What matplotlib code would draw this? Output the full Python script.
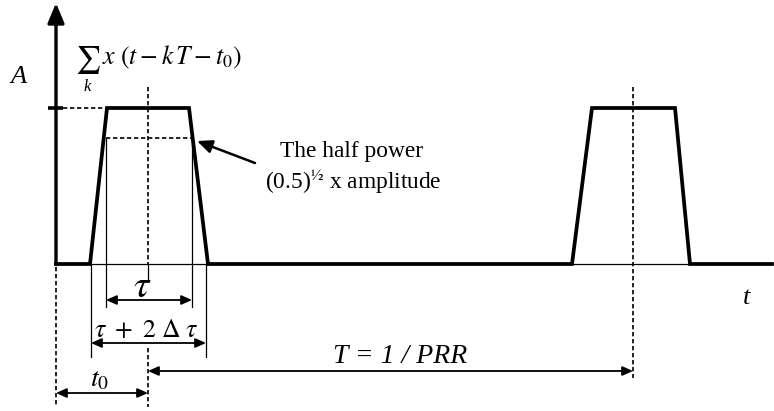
import numpy as np
import matplotlib.pyplot as plt

plt.rcParams['font.family'] = ['Liberation Serif', 'DejaVu Serif']
plt.rcParams['mathtext.fontset'] = 'stix'

# pulse train: corner times and amplitude levels (0 = off, 1 = A)
t_pts = [56, 90, 107, 189, 208, 572, 592, 675, 690, 772]
a_pts = [0, 0, 1, 1, 0, 0, 1, 1, 0, 0]
half_level = 0.81          # level of the half power marks
t_start = 56               # time origin
t_centre = [148, 633]      # centres of the two pulses
tau_edges = [106, 192]     # width at half power
full_edges = [91, 206]     # full width at the feet

base_y = 264
amp_px = 156


def level(a):
    return base_y - amp_px * np.asarray(a, dtype=float)


fig = plt.figure(figsize=(7.74, 4.11), dpi=100)
ax = fig.add_axes([0, 0, 1, 1])
ax.set_xlim(0, 774)
ax.set_ylim(411, 0)
ax.axis('off')

thin = 0.9
dash = (0, (2.6, 1.6))

def dim_arrow(x1, x2, y):
    ax.annotate('', xy=(x2, y), xytext=(x1, y),
                arrowprops=dict(arrowstyle='<|-|>,head_length=0.45,head_width=0.2',
                                lw=1.3, color='k', mutation_scale=14,
                                shrinkA=0, shrinkB=0))

# amplitude axis with arrow
ax.annotate('', xy=(t_start, 3), xytext=(t_start, base_y),
            arrowprops=dict(arrowstyle='-|>,head_length=0.6,head_width=0.25',
                            lw=2.4, color='k', mutation_scale=20,
                            shrinkA=0, shrinkB=0))
ax.plot([48, 63], [level(1), level(1)], color='k', lw=2.6, solid_capstyle='butt')
ax.plot([63, t_pts[2]], [level(1), level(1)], color='k', lw=1.2, ls=dash)

# thin baseline under each pulse
ax.plot([t_pts[1], t_pts[4]], [base_y, base_y], color='k', lw=thin)
ax.plot([t_pts[5], t_pts[8]], [base_y, base_y], color='k', lw=thin)

# pulses
ax.plot(t_pts, level(a_pts), color='k', lw=2.7, solid_joinstyle='miter')

# half power line and width markers
hy = float(level(half_level))
ax.plot(tau_edges, [hy, hy], color='k', lw=1.2, ls=dash)
for x in tau_edges:
    ax.plot([x, x], [hy, 307], color='k', lw=thin)
for x in full_edges:
    ax.plot([x, x], [base_y, 357], color='k', lw=thin)

# centre lines and time origin
ax.plot([t_centre[0], t_centre[0]], [87, base_y], color='k', lw=1.2, ls=dash)
ax.plot([t_centre[0], t_centre[0]], [base_y, 281], color='k', lw=thin)
ax.plot([t_centre[0], t_centre[0]], [348, 407], color='k', lw=1.2, ls=dash)
ax.plot([t_centre[1], t_centre[1]], [87, 378], color='k', lw=1.2, ls=dash)
ax.plot([t_start, t_start], [base_y + 3, 407], color='k', lw=1.2, ls=dash)

# dimension arrows
dim_arrow(tau_edges[0], tau_edges[1], 300)
dim_arrow(full_edges[0], full_edges[1], 343)
dim_arrow(t_centre[0], t_centre[1], 371)
dim_arrow(t_start, t_centre[0], 393)

# half power pointer
ax.annotate('', xy=(197, 141), xytext=(255, 163),
            arrowprops=dict(arrowstyle='-|>,head_length=0.5,head_width=0.22',
                            lw=1.8, color='k', mutation_scale=18,
                            shrinkA=0, shrinkB=0))

# labels
ax.text(10, 83, 'A', fontsize=19, style='italic', ha='left', va='baseline')
ax.text(75, 44, r'$\sum$', fontsize=20, ha='left', va='top')
ax.text(87, 87, 'k', fontsize=12, style='italic', ha='center', va='center')
ax.text(102, 64, r'$x\ \left(t - k\,T - t_0\right)$', fontsize=18.5,
        ha='left', va='baseline')
ax.text(352, 157, 'The half power', fontsize=16.8, ha='center', va='baseline')
ax.text(353, 189, r'(0.5)$^{½}$ x amplitude', fontsize=16.8, ha='center',
        va='baseline', math_fontfamily='stix')
ax.text(142, 297, r'$\tau$', fontsize=28, ha='center', va='baseline')
ax.text(146, 337, r'$\tau\ +\ 2\ \Delta\ \tau$', fontsize=18.5, ha='center',
        va='baseline')
ax.text(100, 386, r'$t_{\mathit{0}}$', fontsize=20, ha='center', va='baseline')
ax.text(400, 363, 'T = 1 / PRR', fontsize=20, style='italic', ha='center',
        va='baseline')
ax.text(747, 304, 't', fontsize=19, style='italic', ha='center', va='baseline')

fig.savefig('out.png', dpi=100)
